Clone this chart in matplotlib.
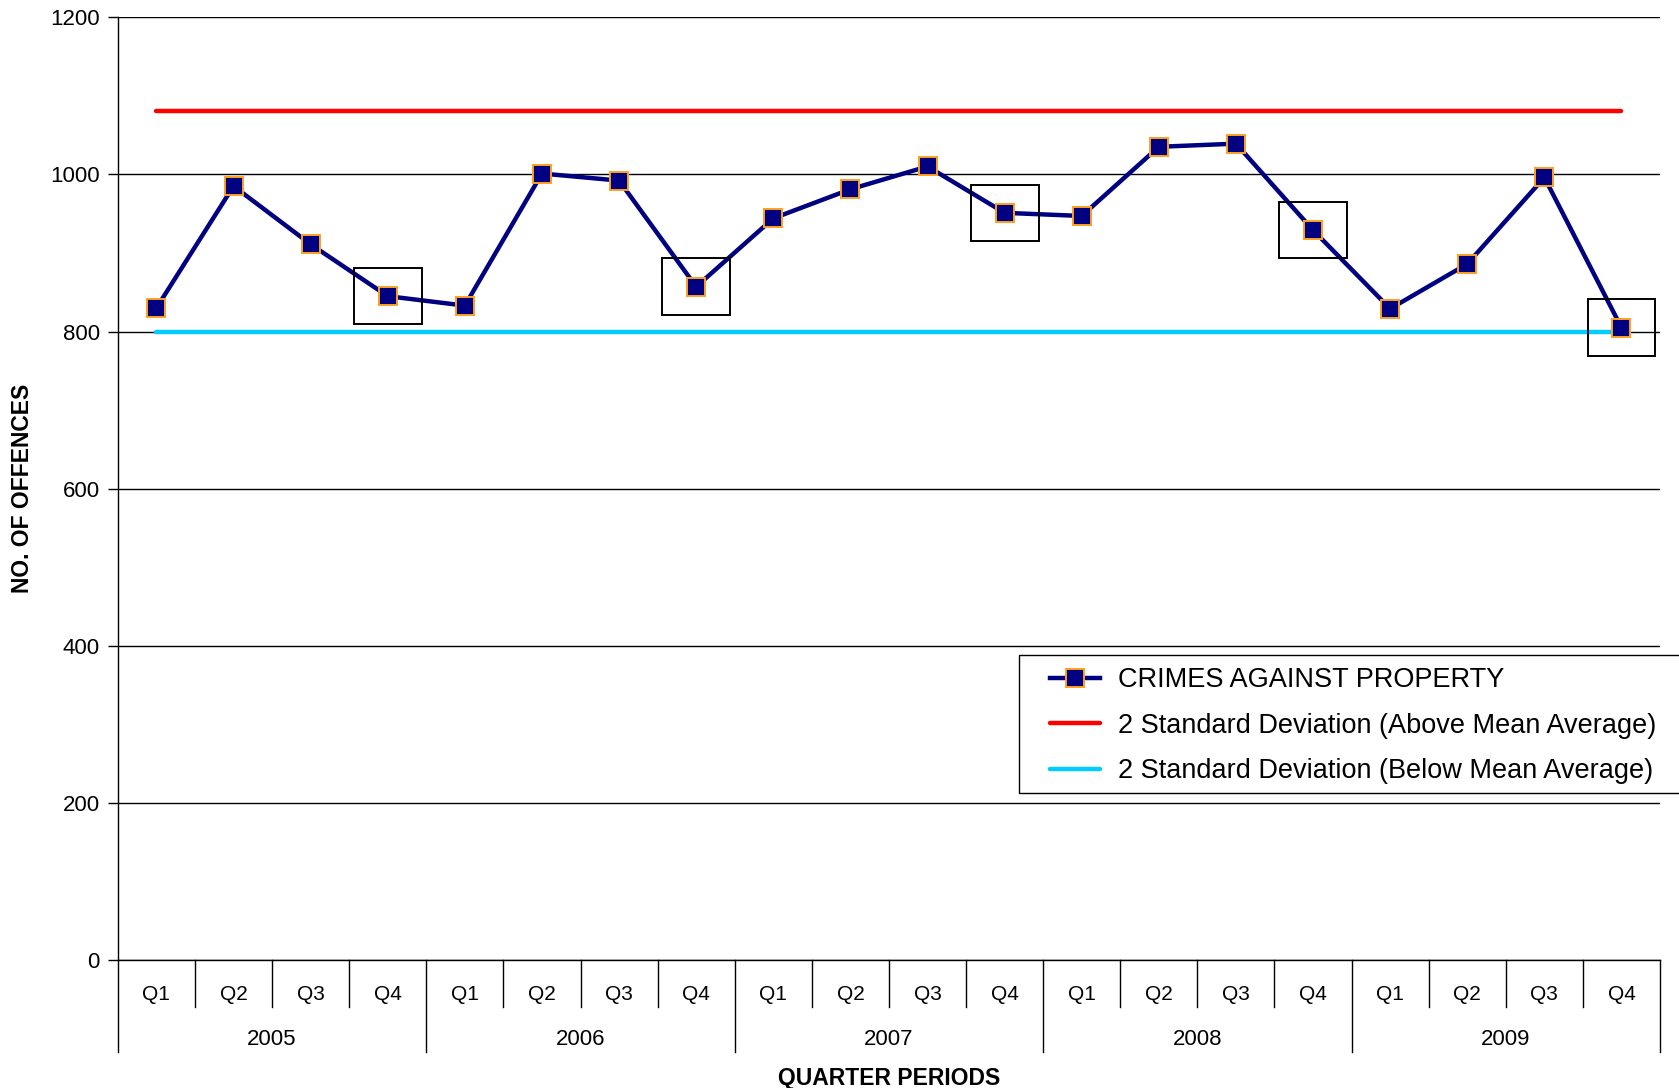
import matplotlib
matplotlib.use('Agg')
import matplotlib.pyplot as plt
import matplotlib.transforms as mtransforms
from matplotlib.patches import Rectangle
import numpy as np

plt.rcParams['font.family'] = ['Liberation Sans', 'DejaVu Sans']

years = ['2005', '2006', '2007', '2008', '2009']
quarters = ['Q1', 'Q2', 'Q3', 'Q4']
crimes = [830, 985, 911, 845,
          833, 1001, 992, 857,
          944, 981, 1010, 951,
          947, 1035, 1039, 929,
          829, 886, 996, 805]
upper_2sd = 1080
lower_2sd = 799
flagged = [3, 7, 11, 15, 19]  # boxed quarters

n = len(crimes)
x = np.arange(n)

fig = plt.figure(figsize=(16.79, 10.88), dpi=100)
ax = fig.add_axes([0.0702, 0.1172, 0.9185, 0.8671])

ax.plot(x, np.full(n, upper_2sd), color='#ff0000', lw=3.2, solid_capstyle='round',
        label='2 Standard Deviation (Above Mean Average)', zorder=3)
ax.plot(x, np.full(n, lower_2sd), color='#00ccff', lw=3.2, solid_capstyle='round',
        label='2 Standard Deviation (Below Mean Average)', zorder=3)
ax.plot(x, crimes, color='#000080', lw=3.2, marker='s', markersize=13,
        markerfacecolor='#000080', markeredgecolor='#ffa020',
        markeredgewidth=1.4, label='CRIMES AGAINST PROPERTY', zorder=4)

# boxes around the flagged quarters
for i in flagged:
    ax.add_patch(Rectangle((x[i] - 0.44, crimes[i] - 36), 0.88, 72,
                           fill=False, edgecolor='black', lw=1.4, zorder=5))

ax.set_xlim(-0.5, n - 0.5)
ax.set_ylim(0, 1200)
ax.set_yticks(np.arange(0, 1201, 200))
ax.yaxis.grid(True, color='black', lw=1.0)
ax.set_axisbelow(True)
for side in ['top', 'right']:
    ax.spines[side].set_visible(False)
ax.spines['left'].set_linewidth(1.0)
ax.spines['bottom'].set_linewidth(1.0)
ax.tick_params(axis='y', labelsize=16, length=7, width=1.0, pad=6)

# category axis: quarters then years
ax.set_xticks(x)
ax.set_xticklabels(quarters * len(years), fontsize=15)
ax.tick_params(axis='x', length=0, pad=18)

trans = mtransforms.blended_transform_factory(ax.transData, ax.transAxes)
for k in range(n + 1):
    bottom = -0.097 if k % 4 == 0 else -0.049
    ax.plot([k - 0.5, k - 0.5], [0, bottom], color='black', lw=1.0,
            transform=trans, clip_on=False)
for j, yr in enumerate(years):
    ax.text(j * 4 + 1.5, -0.084, yr, transform=trans, ha='center', va='center',
            fontsize=16)

ax.text(0.5, -0.125, 'QUARTER PERIODS', transform=ax.transAxes, ha='center',
        va='center', fontsize=16.5, fontweight='bold')
fig.text(0.0135, 0.5515, 'NO. OF OFFENCES', rotation=90, ha='center', va='center',
         fontsize=16.5, fontweight='bold')

# legend frame runs off the right edge of the figure
fig.patches.append(Rectangle((0.6071, 0.2707), 0.5, 0.1273, transform=fig.transFigure,
                             fill=True, facecolor='white', edgecolor='black',
                             lw=1.0, zorder=6))
handles, labels = ax.get_legend_handles_labels()
order = [2, 0, 1]
leg = fig.legend([handles[i] for i in order], [labels[i] for i in order],
                 loc='upper left', bbox_to_anchor=(0.6256, 0.3868),
                 bbox_transform=fig.transFigure, fontsize=19.5, frameon=False,
                 borderpad=0, handlelength=1.85, handletextpad=0.65,
                 labelspacing=0.72, borderaxespad=0)
leg.set_zorder(7)

fig.savefig('out.png', dpi=100)
